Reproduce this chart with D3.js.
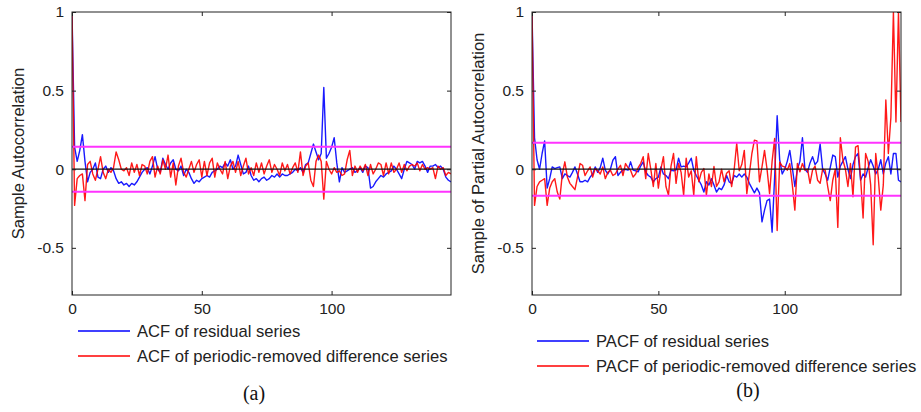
<!DOCTYPE html>
<html>
<head>
<meta charset="utf-8">
<script src="https://cdn.jsdelivr.net/npm/d3@7"></script>
<style>
  body { margin: 0; background: #fff; }
  svg { display: block; }
  .tick text { font-family: "Liberation Sans", Arial, sans-serif; font-size: 15.5px; fill: #222; }
  .tick line { stroke: #222; }
  .lbl { font-family: "Liberation Sans", Arial, sans-serif; font-size: 16.6px; fill: #222; }
  .cap { font-family: "Liberation Serif", "Times New Roman", serif; font-size: 20px; fill: #111; }
</style>
</head>
<body>
<script>
// lags 0..146, values
var acfResidual = [
  1.0, 0.14, 0.05, 0.12, 0.22, 0.05, -0.08, -0.02, 0.0, 0.04,
  -0.05, -0.06, 0.0, 0.02, -0.02, 0.01, -0.01, -0.06, -0.09, -0.08,
  -0.10, -0.09, -0.11, -0.09, -0.10, -0.08, -0.05, -0.02, 0.0, 0.01,
  -0.03, 0.02, 0.08, 0.0, -0.02, 0.07, 0.03, 0.0, 0.04, 0.06,
  0.0, -0.01, 0.02, -0.04, 0.0, -0.02, -0.06, -0.09, -0.07, -0.08,
  -0.06, -0.05, -0.04, -0.05, -0.02, -0.01, 0.0, 0.02, 0.01, 0.04,
  0.02, 0.06, 0.0, 0.02, 0.09, 0.03, -0.03, -0.02, 0.02, -0.04,
  -0.07, -0.06, -0.08, -0.06, -0.05, -0.07, -0.06, -0.04, -0.05, -0.03,
  -0.05, -0.03, -0.04, -0.04, -0.03, -0.02, 0.0, -0.01, 0.01, -0.02,
  0.03, 0.04, 0.10, 0.16, 0.11, 0.06, 0.10, 0.52, 0.07, 0.10,
  0.14, 0.20, 0.04, -0.08, 0.01, -0.02, -0.01, 0.0, 0.01, -0.02,
  -0.01, 0.01, -0.02, 0.02, 0.01, -0.12, -0.11, -0.08, -0.06, -0.04,
  -0.05, -0.03, -0.02, -0.01, 0.02, 0.0, -0.03, -0.06, 0.0, 0.05,
  0.04, 0.03, 0.0, 0.05, 0.04, 0.05, 0.02, -0.02, 0.02, 0.02,
  0.03, 0.01, 0.02, 0.0, -0.05, -0.07, -0.08
];

var acfDiff = [
  1.0, -0.23, -0.06, -0.04, -0.03, -0.20, 0.03, 0.05, -0.03, -0.07,
  0.0, 0.08, -0.02, -0.06, 0.0, -0.02, 0.01, 0.11, 0.06, 0.0,
  -0.01, 0.01, -0.04, 0.04, -0.02, 0.03, -0.04, 0.03, 0.02, -0.03,
  0.05, 0.08, -0.05, 0.02, -0.03, 0.06, 0.0, 0.09, -0.05, 0.04,
  -0.10, 0.02, 0.07, -0.02, -0.05, 0.0, 0.05, -0.02, 0.03, 0.06,
  -0.05, 0.05, -0.04, 0.04, 0.07, -0.05, 0.04, 0.0, -0.03, 0.05,
  -0.06, 0.02, 0.05, -0.02, 0.05, -0.04, 0.02, 0.07, -0.03, 0.01,
  -0.04, 0.04, -0.02, 0.04, -0.03, 0.02, 0.06, -0.02, 0.03, 0.0,
  -0.04, 0.04, -0.01, 0.03, -0.03, 0.01, 0.04, -0.02, 0.11, -0.04,
  0.02, 0.04, -0.07, -0.11, 0.05, 0.09, 0.05, -0.19, 0.05, 0.0,
  -0.03, 0.01, -0.02, -0.01, -0.04, -0.03, 0.06, 0.12, -0.04, 0.02,
  -0.02, 0.02, -0.01, 0.03, -0.04, 0.03, -0.03, 0.0, 0.04, 0.03,
  -0.04, 0.04, -0.03, 0.04, -0.02, 0.0, 0.04, -0.02, 0.03, -0.01,
  0.02, 0.03, 0.02, 0.04, -0.01, 0.03, 0.0, 0.01, 0.0, 0.01,
  -0.06, 0.02, 0.0, 0.01, -0.04, -0.02, -0.03
];

var pacfResidual = [
  1.0, 0.20, 0.06, 0.0, 0.10, 0.18, -0.12, -0.06, 0.015, 0.004,
  0.01, 0.015, -0.06, -0.03, -0.04, -0.05, -0.02, 0.015, -0.03, -0.08,
  -0.08, -0.07, -0.08, -0.05, -0.03, 0.015, -0.02, 0.01, 0.07, -0.006,
  -0.03, 0.0, 0.057, 0.08, -0.04, -0.02, -0.006, 0.0, -0.006, 0.047,
  -0.006, -0.01, -0.017, 0.02, 0.047, -0.017, -0.04, -0.05, -0.08, -0.06,
  -0.05, 0.015, -0.03, -0.04, -0.06, -0.006, -0.01, -0.006, 0.07, 0.015,
  0.02, 0.015, 0.04, 0.07, -0.006, -0.04, -0.07, -0.10, -0.145, -0.08,
  -0.10, -0.06, -0.10, -0.145, -0.12, -0.13, -0.10, -0.04, -0.08, -0.09,
  -0.04, -0.05, -0.03, -0.05, -0.03, -0.05, -0.09, -0.12, -0.15, -0.12,
  -0.15, -0.335, -0.26, -0.20, -0.19, -0.40, -0.05, 0.34, 0.06, -0.03,
  0.0, 0.05, 0.12, 0.01, -0.11, 0.0, 0.05, 0.20, 0.0, -0.02,
  0.04, 0.08, 0.03, 0.05, 0.16, 0.0, -0.03, -0.07, 0.01, 0.09,
  0.08, -0.05, 0.02, 0.05, 0.08, 0.0, -0.06, 0.03, 0.08, 0.10,
  -0.07, -0.03, -0.05, 0.01, 0.06, 0.02, -0.03, 0.0, 0.06, -0.03,
  0.04, 0.08, -0.03, 0.10, 0.10, -0.07, -0.08
];

var pacfDiff = [
  1.0, -0.23, -0.11, -0.08, -0.07, -0.06, -0.23, -0.12, -0.08, -0.06,
  -0.145, -0.19, -0.03, 0.047, -0.05, -0.09, -0.11, -0.13, -0.05, 0.036,
  0.025, -0.04, -0.01, 0.015, -0.05, 0.004, -0.01, -0.03, 0.015, -0.06,
  -0.02, -0.006, -0.04, -0.03, 0.0, 0.025, -0.04, 0.036, 0.01, -0.006,
  -0.05, -0.03, 0.01, 0.036, 0.08, -0.06, 0.10, 0.0, -0.11, 0.036,
  -0.12, 0.0, 0.08, -0.11, -0.165, 0.02, 0.10, -0.09, 0.036, -0.02,
  -0.165, 0.07, -0.05, -0.01, -0.165, 0.08, -0.08, -0.02, 0.004, -0.165,
  -0.03, -0.11, 0.017, -0.11, -0.08, 0.0, -0.08, -0.025, -0.01, -0.11,
  0.0, 0.165, -0.01, 0.03, 0.12, -0.155, -0.03, 0.10, 0.185, 0.18,
  -0.08, 0.015, 0.12, 0.0, -0.155, 0.05, 0.195, -0.39, 0.045, 0.02,
  0.015, -0.006, 0.036, -0.10, -0.26, 0.036, -0.017, 0.036, -0.006, 0.0,
  -0.09, -0.006, 0.02, -0.07, -0.09, 0.0, -0.006, -0.11, -0.20, -0.07,
  0.0, -0.37, 0.20, 0.06, 0.0, -0.11, 0.036, -0.175, 0.14, 0.15,
  -0.05, -0.31, 0.10, 0.05, -0.10, -0.48, 0.10, -0.05, -0.26, -0.10,
  0.44, 0.10, 0.33, 1.0, 0.30, 1.0, 0.30
];

var xTicks = [0, 50, 100];
var yTicks = [-0.5, 0, 0.5, 1];
var acfBound = 0.143;
var pacfBound = 0.168;

var panels = [
  {
    id: "a", left: 72, right: 451, ylabel: "Sample Autocorrelation", ylabelX: 18,
    series: [acfResidual, acfDiff], bound: acfBound,
    names: ["ACF of residual series", "ACF of periodic-removed difference series"],
    legendX: 78, legendY: 331, cap: 254, capY: 400
  },
  {
    id: "b", left: 532, right: 901, ylabel: "Sample of Partial Autocorrelation", ylabelX: 478,
    series: [pacfResidual, pacfDiff], bound: pacfBound,
    names: ["PACF of residual series", "PACF of periodic-removed difference series"],
    legendX: 537, legendY: 341, cap: 748, capY: 397
  }
];

var colors = ["#0000ff", "#ff0000"];
var plotTop = 12, plotBottom = 295;

var svg = d3.select("body").append("svg").attr("width", 921).attr("height", 412);

panels.forEach(function (p) {
  var x = d3.scaleLinear().domain([0, 146]).range([p.left, p.right]);
  var y = d3.scaleLinear().domain([-0.8, 1]).range([plotBottom, plotTop]);
  var g = svg.append("g");

  g.append("clipPath")
    .attr("id", "clip-" + p.id)
    .append("rect")
    .attr("x", p.left)
    .attr("y", plotTop)
    .attr("width", p.right - p.left)
    .attr("height", plotBottom - plotTop);

  var plot = g.append("g").attr("clip-path", "url(#clip-" + p.id + ")");

  var line = d3.line()
    .x(function (d, i) { return x(i); })
    .y(function (d) { return y(d); });

  p.series.forEach(function (s, k) {
    plot.append("path")
      .datum(s)
      .attr("d", line)
      .attr("fill", "none")
      .attr("stroke", colors[k])
      .attr("stroke-width", 1.4)
      .attr("stroke-linejoin", "round")
      .attr("opacity", 0.9);
  });

  // zero line and confidence bounds
  plot.append("line")
    .attr("x1", p.left).attr("x2", p.right)
    .attr("y1", y(0)).attr("y2", y(0))
    .attr("stroke", "#111").attr("stroke-width", 1.3);

  [p.bound, -p.bound].forEach(function (b) {
    plot.append("line")
      .attr("x1", p.left).attr("x2", p.right)
      .attr("y1", y(b)).attr("y2", y(b))
      .attr("stroke", "#ff33ff").attr("stroke-width", 2);
  });

  // axes, MATLAB style ticks inside
  g.append("g")
    .attr("transform", "translate(0," + plotBottom + ")")
    .call(d3.axisBottom(x).tickValues(xTicks).tickSize(-4).tickSizeOuter(0).tickPadding(8).tickFormat(function (d) { return String(d); }))
    .call(function (a) { a.select(".domain").remove(); });

  g.append("g")
    .attr("transform", "translate(0," + plotTop + ")")
    .call(d3.axisTop(x).tickValues(xTicks).tickSize(-4).tickSizeOuter(0).tickFormat(""))
    .call(function (a) { a.select(".domain").remove(); });

  g.append("g")
    .attr("transform", "translate(" + p.left + ",0)")
    .call(d3.axisLeft(y).tickValues(yTicks).tickSize(-4).tickSizeOuter(0).tickPadding(8).tickFormat(function (d) { return String(d); }))
    .call(function (a) { a.select(".domain").remove(); });

  g.append("g")
    .attr("transform", "translate(" + p.right + ",0)")
    .call(d3.axisRight(y).tickValues(yTicks).tickSize(-4).tickSizeOuter(0).tickFormat(""))
    .call(function (a) { a.select(".domain").remove(); });

  g.selectAll(".tick text").attr("font-family", null).attr("font-size", null);

  g.append("rect")
    .attr("x", p.left)
    .attr("y", plotTop)
    .attr("width", p.right - p.left)
    .attr("height", plotBottom - plotTop)
    .attr("fill", "none")
    .attr("stroke", "#222")
    .attr("stroke-width", 1);

  g.append("text")
    .attr("class", "lbl")
    .attr("transform", "translate(" + p.ylabelX + "," + ((plotTop + plotBottom) / 2) + ") rotate(-90)")
    .attr("text-anchor", "middle")
    .attr("dominant-baseline", "central")
    .text(p.ylabel);

  // legend
  p.names.forEach(function (n, k) {
    var ly = p.legendY + k * 25;
    g.append("line")
      .attr("x1", p.legendX).attr("x2", p.legendX + 52)
      .attr("y1", ly).attr("y2", ly)
      .attr("stroke", colors[k]).attr("stroke-width", 1.4);
    g.append("text")
      .attr("class", "lbl")
      .attr("x", p.legendX + 59)
      .attr("y", ly + 6)
      .text(n);
  });

  g.append("text")
    .attr("class", "cap")
    .attr("x", p.cap)
    .attr("y", p.capY)
    .attr("text-anchor", "middle")
    .text("(" + p.id + ")");
});
</script>
</body>
</html>
